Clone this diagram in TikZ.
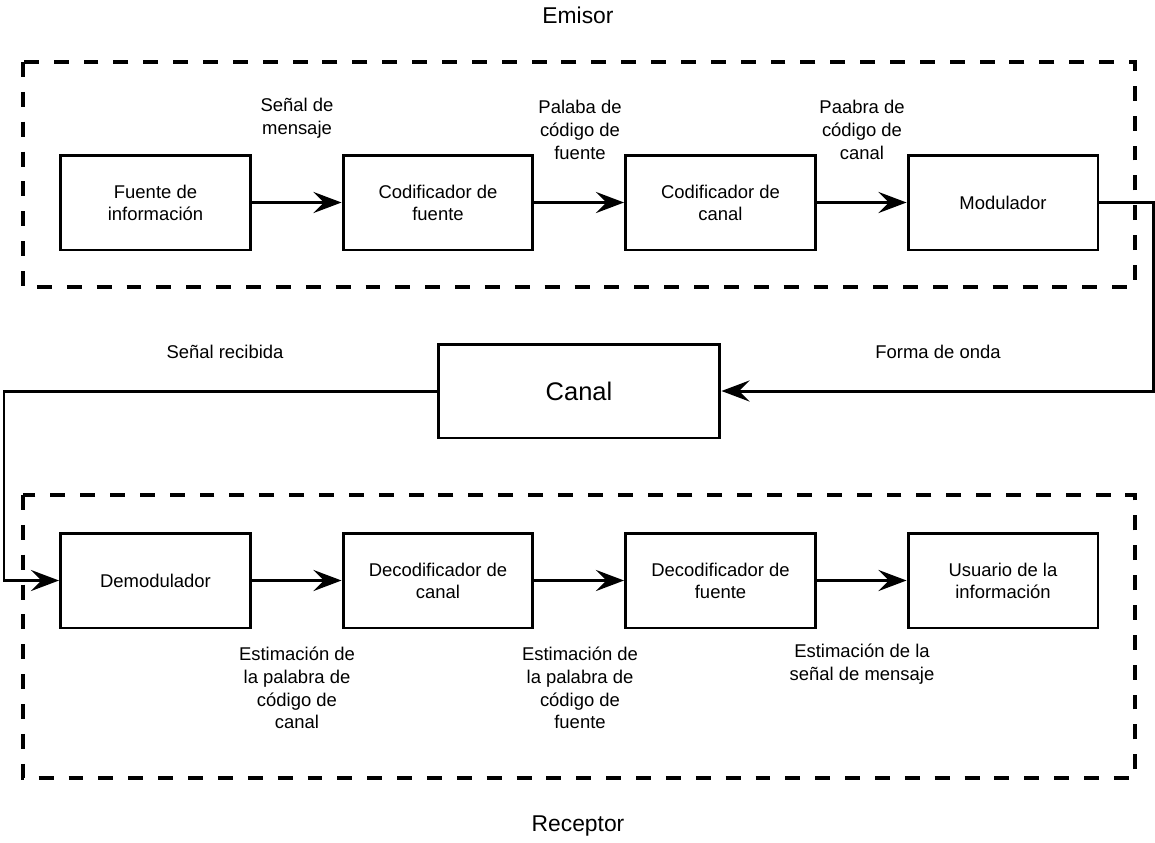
\documentclass[tikz,border=0pt]{standalone}
\usepackage{fontspec}
\setmainfont{Liberation Sans}
\usetikzlibrary{arrows.meta}
\tikzset{
  block/.style={draw, line width=1.7pt, minimum width=3.8cm, minimum height=1.9cm,
    align=center, font=\fontsize{10.5}{12.6}\selectfont, inner sep=0pt},
  chanbox/.style={draw, line width=1.7pt, minimum width=5.64cm, minimum height=1.88cm,
    font=\fontsize{14.5}{17}\selectfont, inner sep=0pt},
  lbl/.style={align=center, font=\fontsize{10.5}{13}\selectfont, inner sep=0pt},
  title/.style={font=\fontsize{13}{15}\selectfont, inner sep=0pt},
  frame/.style={line width=1.8pt, dash pattern=on 8.5pt off 8.5pt},
  arr/.style={line width=1.7pt, -{Stealth[length=16pt, width=12pt, inset=6pt]}},
  wire/.style={line width=1.7pt}
}
\begin{document}
\begin{tikzpicture}[x=0.02cm, y=-0.02cm]
\useasboundingbox (0,0) rectangle (1155,842);

% transmitter and receiver frames
\draw[frame] (23,62) rectangle (1135,287);
\draw[frame] (23,495) rectangle (1135,778);
\node[title] (emisor) at (578,15) {Emisor};
\node[title] (receptor) at (578,826) {Receptor};

% transmitter chain
\node[block] (fuente) at (155.5,202.5) {Fuente de\\información};
\node[block] (codf)   at (438,202.5) {Codificador de\\fuente};
\node[block] (codc)   at (720.5,202.5) {Codificador de\\canal};
\node[block] (mod)    at (1003,202.5) {Modulador};

\draw[arr] (fuente.east) -- (codf.west);
\draw[arr] (codf.east) -- (codc.west);
\draw[arr] (codc.east) -- (mod.west);

\node[lbl] (l1) at (297,118) {Señal de\\mensaje};
\node[lbl] (l2) at (580,130) {Palaba de\\código de\\fuente};
\node[lbl] (l3) at (862,130) {Paabra de\\código de\\canal};

% channel
\node[chanbox] (canal) at (579,391) {Canal};
\coordinate (rt) at (1153,202.5);
\coordinate (lt) at (4,391);
\draw[arr] (mod.east) -- (rt) |- (canal.east);
\node[lbl] (forma) at (938,352) {Forma de onda};
\node[lbl] (recib) at (225,352) {Señal recibida};

% receiver chain
\node[block] (demod) at (155.5,580.5) {Demodulador};
\node[block] (decc)  at (438,580.5) {Decodificador de\\canal};
\node[block] (decf)  at (720.5,580.5) {Decodificador de\\fuente};
\node[block] (user)  at (1003,580.5) {Usuario de la\\información};

\draw[arr] (canal.west) -- (lt) |- (demod.west);
\draw[arr] (demod.east) -- (decc.west);
\draw[arr] (decc.east) -- (decf.west);
\draw[arr] (decf.east) -- (user.west);

\node[lbl] (e1) at (297,688) {Estimación de\\la palabra de\\código de\\canal};
\node[lbl] (e2) at (580,688) {Estimación de\\la palabra de\\código de\\fuente};
\node[lbl] (e3) at (862,664) {Estimación de la\\señal de mensaje};
\end{tikzpicture}
\end{document}
